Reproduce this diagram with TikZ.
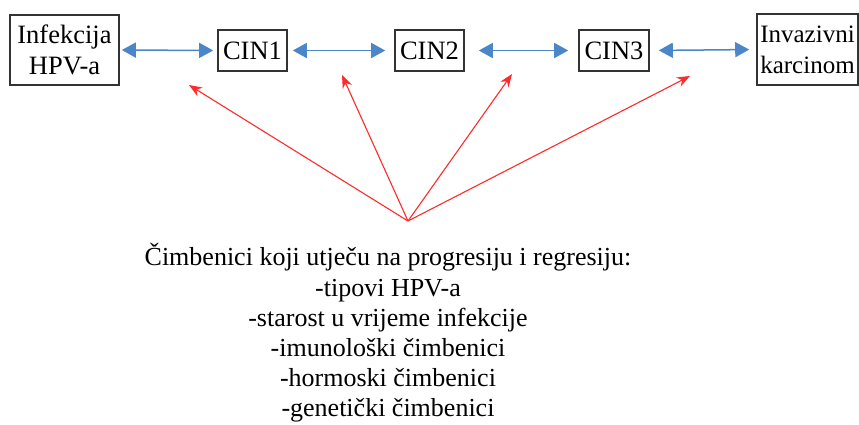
\documentclass[tikz,border=0pt]{standalone}
\usepackage{fontspec}
\setmainfont{Liberation Serif}
\usetikzlibrary{arrows.meta}
\definecolor{arrblue}{HTML}{4A86C8}
\definecolor{arrred}{HTML}{FF2A2A}
\definecolor{boxline}{HTML}{333333}
\tikzset{
  stagebox/.style={draw=boxline, line width=1.6pt, inner sep=0pt, align=center,
    font=\fontsize{26.5}{31}\selectfont},
  bluelink/.style={draw=arrblue, line width=1.5pt, {Triangle[length=14pt,width=15pt]}-{Triangle[length=14pt,width=15pt]}},
  redlink/.style={draw=arrred, line width=1.1pt, -{Stealth[length=13pt,width=10pt]}},
}
\begin{document}
\begin{tikzpicture}[x=1pt,y=-1pt]
\useasboundingbox (0,0) rectangle (859,424);
\node[stagebox, minimum width=109pt, minimum height=70pt] (inf) at (64.5,50) {Infekcija\\HPV-a};
\node[stagebox, minimum width=69pt, minimum height=41pt] (cin1) at (252.5,50.5) {CIN1};
\node[stagebox, minimum width=69pt, minimum height=41pt] (cin2) at (429.5,50.5) {CIN2};
\node[stagebox, minimum width=70pt, minimum height=41pt] (cin3) at (614,50.5) {CIN3};
\node[stagebox, minimum width=101pt, minimum height=71pt, font=\fontsize{25}{31}\selectfont] (inv) at (807.5,49.5) {Invazivni\\karcinom};
\draw[bluelink, shorten <=2pt, shorten >=4pt] (inf.east) -- (cin1.west);
\draw[bluelink, shorten <=5pt, shorten >=9pt] (cin1.east) -- (cin2.west);
\draw[bluelink, shorten <=14pt, shorten >=10pt] (cin2.east) -- (cin3.west);
\draw[bluelink, shorten <=9pt, shorten >=7pt] (cin3.east) -- (inv.west);
\coordinate (apex) at (408,221);
\coordinate (t1) at (189,85);
\coordinate (t2) at (342,75);
\coordinate (t3) at (512,74);
\coordinate (t4) at (690,76);
\foreach \t in {t1,t2,t3,t4} \draw[redlink] (apex) -- (\t);
\node[align=center, inner sep=0pt, font=\fontsize{26}{30.2}\selectfont] (factors) at (388,333)
  {Čimbenici koji utječu na progresiju i regresiju:\\-tipovi HPV-a\\-starost u vrijeme infekcije\\-imunološki čimbenici\\-hormoski čimbenici\\-genetički čimbenici};
\end{tikzpicture}
\end{document}
